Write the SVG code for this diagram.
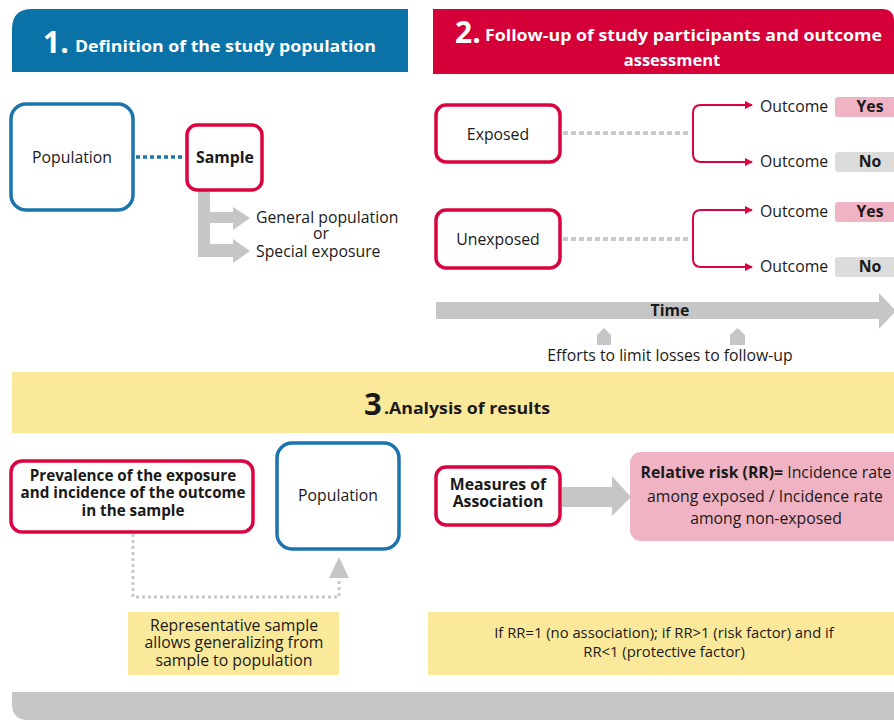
<svg xmlns="http://www.w3.org/2000/svg" width="894" height="720" viewBox="0 0 894 720">
<defs>
<style>
text{font-family:"Open Sans",Lato,"Liberation Sans",sans-serif;fill:#1a1a1a}
.t{font-size:15.8px}
.p{font-size:15.2px;font-weight:bold}
.b{font-weight:bold}
.w{fill:#fff;font-weight:bold}
.blue{fill:#fff;stroke:#1a74ad;stroke-width:3.5}
.red{fill:#fff;stroke:#d9043f;stroke-width:3.5}
.gdot{fill:none;stroke:#c9c9c9;stroke-width:4;stroke-dasharray:5 3}
.branch{fill:none;stroke:#d9043f;stroke-width:2}
.grey{fill:#c6c6c6}
</style>
<marker id="ah" viewBox="0 0 8 8" refX="7" refY="4" markerWidth="8" markerHeight="8" markerUnits="userSpaceOnUse" orient="auto">
<path d="M0,0 L8,4 L0,8 z" fill="#d9043f"/>
</marker>
</defs>
<rect width="894" height="720" fill="#fff"/>

<!-- Section headers -->
<g id="header1">
<path d="M12,72 V29 Q12,9 32,9 H408 V72 z" fill="#0b72a8"/>
<text x="43" y="53" class="w" font-size="30">1.</text>
<text x="75" y="52" class="w" font-size="16.5" textLength="301" lengthAdjust="spacingAndGlyphs">Definition of the study population</text>
</g>
<g id="header2">
<path d="M433,9 H882 Q894,9 894,21 V74 H433 z" fill="#d50037"/>
<text x="455" y="43" class="w" font-size="30">2.</text>
<text x="485" y="41" class="w" font-size="16.5" textLength="397" lengthAdjust="spacingAndGlyphs">Follow-up of study participants and outcome</text>
<text x="672" y="66" class="w" font-size="16.5" text-anchor="middle">assessment</text>
</g>
<g id="header3">
<rect x="12" y="372" width="882" height="61" fill="#fbe99b"/>
<text x="364" y="415" class="b" font-size="31">3</text>
<text x="384" y="414" class="b" font-size="16" textLength="166" lengthAdjust="spacingAndGlyphs">.Analysis of results</text>
</g>

<!-- Connectors -->
<g id="connectors">
<line x1="136" y1="157" x2="185" y2="157" stroke="#1a74ad" stroke-width="3.5" stroke-dasharray="4 3"/>
<path class="grey" d="M198,191 H210 V212 H233 V207 L250,218 L233,230 V223 H210 V244 H233 V239 L250,251 L233,263 V257 H198 z"/>
<line class="gdot" x1="563" y1="133" x2="691" y2="133"/>
<line class="gdot" x1="563" y1="239" x2="691" y2="239"/>
<path class="branch" marker-end="url(#ah)" d="M693,133 V113 Q693,105 701,105 H752"/>
<path class="branch" marker-end="url(#ah)" d="M693,133 V154 Q693,162 701,162 H752"/>
<path class="branch" marker-end="url(#ah)" d="M693,239 V218 Q693,210 701,210 H752"/>
<path class="branch" marker-end="url(#ah)" d="M693,239 V259 Q693,267 701,267 H752"/>
<path class="grey" d="M436,302 H879 V293 L896,311 L879,329 V319 H436 z"/>
<path class="grey" d="M597,345 V335 L604,328 L611,335 V345 z"/>
<path class="grey" d="M730,345 V335 L737.5,328 L745,335 V345 z"/>
<path d="M133,534 V597 H339 V580" fill="none" stroke="#c9c9c9" stroke-width="3" stroke-dasharray="3 3"/>
<path class="grey" d="M329,578 L339,557 L349,578 z"/>
<path class="grey" d="M562,487 H612 V476 L631,497 L612,516 V507 H562 z"/>
</g>

<!-- Section 1 -->
<g id="population1">
<rect class="blue" x="11" y="104" width="122" height="106" rx="15"/>
<text x="72" y="163" class="t" text-anchor="middle">Population</text>
</g>
<g id="sample">
<rect class="red" x="187" y="125" width="75" height="65" rx="10"/>
<text x="225" y="163" class="t b" text-anchor="middle">Sample</text>
</g>
<g id="sample-types">
<text x="256" y="223" class="t">General population</text>
<text x="321" y="239" class="t" text-anchor="middle">or</text>
<text x="256" y="257" class="t">Special exposure</text>
</g>

<!-- Section 2 -->
<g id="exposed">
<rect class="red" x="436" y="105" width="124" height="57" rx="10"/>
<text x="498" y="140" class="t" text-anchor="middle">Exposed</text>
</g>
<g id="unexposed">
<rect class="red" x="436" y="210" width="124" height="58" rx="10"/>
<text x="498" y="245" class="t" text-anchor="middle">Unexposed</text>
</g>
<g id="outcome1">
<text x="760" y="112" class="t">Outcome</text>
<rect x="835" y="97" width="64" height="20" rx="3" fill="#f0b3c3"/>
<text x="870" y="112" class="t b" text-anchor="middle">Yes</text>
</g>
<g id="outcome2">
<text x="760" y="167" class="t">Outcome</text>
<rect x="835" y="152" width="64" height="20" rx="3" fill="#dcdcdc"/>
<text x="870" y="167" class="t b" text-anchor="middle">No</text>
</g>
<g id="outcome3">
<text x="760" y="217" class="t">Outcome</text>
<rect x="835" y="202" width="64" height="20" rx="3" fill="#f0b3c3"/>
<text x="870" y="217" class="t b" text-anchor="middle">Yes</text>
</g>
<g id="outcome4">
<text x="760" y="272" class="t">Outcome</text>
<rect x="835" y="257" width="64" height="20" rx="3" fill="#dcdcdc"/>
<text x="870" y="272" class="t b" text-anchor="middle">No</text>
</g>
<g id="time">
<text x="670" y="316" class="t b" text-anchor="middle">Time</text>
<text x="670" y="361" class="t" text-anchor="middle">Efforts to limit losses to follow-up</text>
</g>

<!-- Section 3 -->
<g id="prevalence">
<rect class="red" x="11" y="461" width="242" height="71" rx="11"/>
<text x="133" y="481" class="p" text-anchor="middle">Prevalence of  the exposure</text>
<text x="133" y="498" class="p" text-anchor="middle">and incidence of the outcome</text>
<text x="133" y="516" class="p" text-anchor="middle">in the sample</text>
</g>
<g id="population2">
<rect class="blue" x="277" y="443" width="122" height="106" rx="15"/>
<text x="338" y="501" class="t" text-anchor="middle">Population</text>
</g>
<g id="representative">
<rect x="128" y="612" width="211" height="63" fill="#fbe99b"/>
<text x="234" y="631" class="t" text-anchor="middle">Representative sample</text>
<text x="234" y="648" class="t" text-anchor="middle">allows generalizing from</text>
<text x="234" y="666" class="t" text-anchor="middle">sample to population</text>
</g>
<g id="measures">
<rect class="red" x="436" y="467" width="124" height="58" rx="10"/>
<text x="498" y="490" class="t b" text-anchor="middle">Measures of</text>
<text x="498" y="507" class="t b" text-anchor="middle">Association</text>
</g>
<g id="relative-risk">
<rect x="630" y="452" width="274" height="89" rx="11" fill="#f0b3c3"/>
<text x="766" y="478" class="t" text-anchor="middle"><tspan class="b">Relative risk (RR)=</tspan> Incidence rate</text>
<text x="765" y="502" class="t" text-anchor="middle">among exposed / Incidence rate</text>
<text x="766" y="524" class="t" text-anchor="middle">among non-exposed</text>
</g>
<g id="interpretation">
<rect x="428" y="612" width="466" height="63" fill="#fbe99b"/>
<text x="664" y="638" font-size="14.8" text-anchor="middle">If RR=1 (no association); if RR&gt;1 (risk factor) and if</text>
<text x="664" y="657" font-size="14.8" text-anchor="middle">RR&lt;1 (protective factor)</text>
</g>
<g id="footer-bar">
<path d="M12,692 H894 V720 H28 Q12,720 12,704 z" fill="#c6c6c6"/>
</g>
</svg>
